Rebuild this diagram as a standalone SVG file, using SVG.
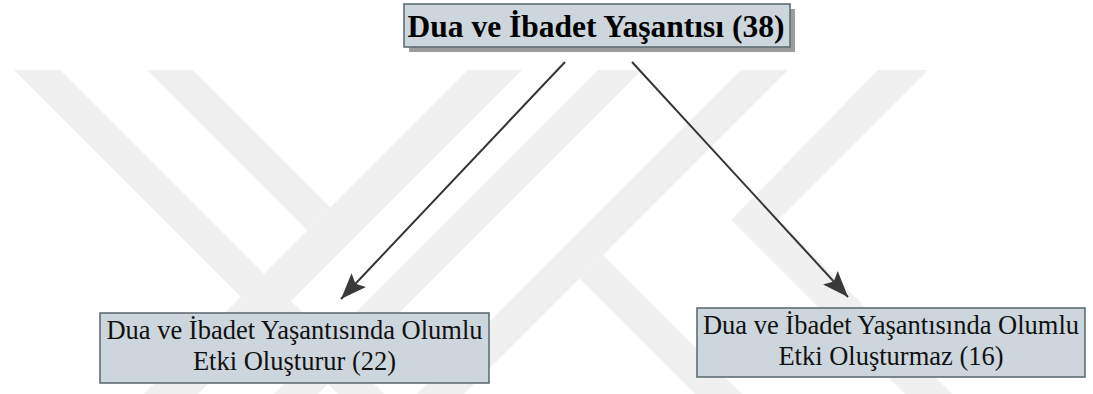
<svg xmlns="http://www.w3.org/2000/svg" width="1093" height="394" viewBox="0 0 1093 394">
  <style>
    .wm { fill: #f0f0f0; }
    .box { fill: #cdd6dc; stroke: #5f6e74; stroke-width: 1.6; }
    .shadow { fill: #9c9c9c; }
    .title { font-family: "Liberation Serif", "Times New Roman", serif; font-weight: bold; font-size: 31.5px; fill: #000; }
    .label { font-family: "Liberation Serif", "Times New Roman", serif; font-size: 26.5px; fill: #111; }
    .edge { stroke: #363636; stroke-width: 2; fill: none; }
  </style>
  <defs>
    <marker id="arrow" markerUnits="userSpaceOnUse" markerWidth="30" markerHeight="24" refX="26" refY="10" orient="auto">
      <path d="M0,0 L26,10 L0,20 L5,10 Z" fill="#3a3a3a"/>
    </marker>
  </defs>

  <rect width="1093" height="394" fill="#ffffff"/>

  <!-- faint background emblem: diagonal bands -->
  <g id="emblem">
    <polygon class="wm" points="14,70 60,70 384,394 338,394"/>
    <polygon class="wm" points="147,70 193,70 330.5,207.5 307.5,230.5"/>
    <polygon class="wm" points="468,70 522,70 198,394 144,394"/>
    <polygon class="wm" points="598,70 642,70 318,394 274,394"/>
    <polygon class="wm" points="741,70 788,70 464,394 417,394"/>
    <polygon class="wm" points="878,70 928,70 778,220 952,394 905,394 731,220 735,216"/>
    <polygon class="wm" points="603,255 742,394 695,394 579.5,278.5"/>
  </g>

  <!-- connectors -->
  <g id="connectors">
    <line class="edge" x1="565" y1="62" x2="341" y2="299" marker-end="url(#arrow)"/>
    <line class="edge" x1="632" y1="62" x2="848" y2="297" marker-end="url(#arrow)"/>
  </g>

  <!-- root node -->
  <g id="node-root">
    <rect class="shadow" x="409" y="9" width="386" height="43"/>
    <rect class="box" x="404" y="4" width="386" height="43"/>
    <text class="title" x="596" y="37" text-anchor="middle">Dua ve İbadet Yaşantısı (38)</text>
  </g>

  <!-- left child -->
  <g id="node-positive">
    <rect class="box" x="100" y="313" width="389" height="70"/>
    <text class="label" x="294.5" y="339" text-anchor="middle">Dua ve İbadet Yaşantısında Olumlu</text>
    <text class="label" x="294.5" y="370" text-anchor="middle">Etki Oluşturur (22)</text>
  </g>

  <!-- right child -->
  <g id="node-negative">
    <rect class="box" x="697" y="308" width="388" height="69"/>
    <text class="label" x="891" y="334" text-anchor="middle">Dua ve İbadet Yaşantısında Olumlu</text>
    <text class="label" x="891" y="365" text-anchor="middle">Etki Oluşturmaz (16)</text>
  </g>
</svg>
